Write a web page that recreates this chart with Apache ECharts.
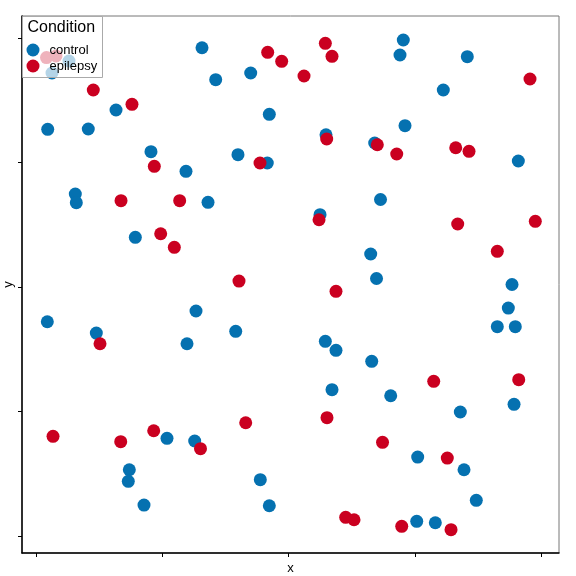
<!DOCTYPE html>
<html>
<head>
<meta charset="utf-8">
<script src="https://cdn.jsdelivr.net/npm/echarts@6/dist/echarts.min.js"></script>
<style>html,body{margin:0;padding:0;background:#fff}#c{width:576px;height:576px}</style>
</head>
<body>
<div id="c"></div>
<script>
const categories = ['control', 'epilepsy'];
const tickValues = [0, 0.25, 0.5, 0.75, 1];

const controlX = [0.3286,0.0317,0.0653,0.3557,0.4250,0.1584,0.0232,0.1035,0.2276,0.2969,
  0.0778,0.0798,0.1966,0.4618,0.5740,0.6704,0.3998,0.4578,0.3405,0.5622,
  0.6819,0.6625,0.6740,0.7270,0.7205,0.8537,0.8062,0.7304,0.9547,0.9422,
  0.0224,0.1194,0.3167,0.2989,0.2593,0.3141,0.1847,0.1827,0.2138,0.3953,
  0.5727,0.5938,0.6645,0.5859,0.4440,0.4618,0.9349,0.9131,0.9487,0.7021,
  0.8399,0.9462,0.7555,0.8472,0.8715,0.7536,0.7904];
const controlY = [0.9805,0.9297,0.9538,0.9163,0.9297,0.8554,0.8167,0.8173,0.7717,0.7323,
  0.6867,0.6693,0.5998,0.8468,0.8058,0.7892,0.7657,0.7490,0.6701,0.6452,
  0.6757,0.5663,0.5171,0.9960,0.9659,0.9625,0.8956,0.8239,0.7530,0.5050,
  0.4303,0.4076,0.4518,0.3861,0.1962,0.1908,0.1331,0.1098,0.0622,0.4110,
  0.3910,0.3729,0.3508,0.2938,0.1131,0.0608,0.4578,0.4203,0.4203,0.2817,
  0.2490,0.2645,0.1586,0.1331,0.0717,0.0295,0.0267];

const epilepsyX = [0.0208,0.0396,0.1134,0.1900,0.2342,0.1683,0.2844,0.2468,0.2738,0.4586,
  0.4863,0.5727,0.5859,0.5305,0.5754,0.6756,0.4434,0.5602,0.4018,0.9778,
  0.7140,0.8308,0.8571,0.8347,0.9883,0.9131,0.1267,0.0337,0.1677,0.2330,
  0.3256,0.5938,0.4151,0.5760,0.6859,0.6130,0.6295,0.7872,0.9555,0.8141,
  0.7239,0.8215];
const epilepsyY = [0.9608,0.9639,0.8956,0.8669,0.7424,0.6733,0.6733,0.6070,0.5797,0.9713,
  0.9532,0.9894,0.9633,0.9237,0.7972,0.7857,0.7490,0.6351,0.5120,0.9177,
  0.7671,0.7797,0.7725,0.6265,0.6319,0.5717,0.3861,0.2002,0.1894,0.2114,
  0.1753,0.4914,0.2275,0.2376,0.1882,0.0376,0.0327,0.3106,0.3139,0.1566,
  0.0195,0.0127];

const colors = ['#0571b0', '#ca0020'];
const zip = (a, b) => a.map((v, i) => [v, b[i]]);

const chart = echarts.init(document.getElementById('c'), null, {renderer: 'canvas'});
chart.setOption({
  animation: false,
  backgroundColor: '#fff',
  grid: {left: 22, right: 17, top: 16, bottom: 23, show: true, borderColor: '#777', borderWidth: 1,
         containLabel: false, outerBoundsMode: 'none'},
  xAxis: {
    type: 'value', min: -0.0277, max: 1.0352,
    name: 'x', nameLocation: 'middle', nameGap: 9,
    nameTextStyle: {color: '#000', fontSize: 13, fontFamily: 'Liberation Sans'},
    splitLine: {show: false},
    axisLine: {show: true, onZero: false, lineStyle: {color: '#000', width: 1.5}},
    axisTick: {show: true, length: 4, lineStyle: {color: '#000', width: 1}, customValues: tickValues},
    axisLabel: {show: false, customValues: tickValues}
  },
  yAxis: {
    type: 'value', min: -0.0341, max: 1.0442,
    name: 'y', nameLocation: 'middle', nameGap: 7, nameRotate: 90,
    nameTextStyle: {color: '#000', fontSize: 13, fontFamily: 'Liberation Sans'},
    splitLine: {show: false},
    axisLine: {show: true, onZero: false, lineStyle: {color: '#000', width: 1.5}},
    axisTick: {show: true, length: 4, lineStyle: {color: '#000', width: 1}, customValues: tickValues},
    axisLabel: {show: false, customValues: tickValues}
  },
  graphic: [{
    type: 'group', left: 22, top: 16, z: 10,
    children: [
      {type: 'rect', shape: {x: 0, y: 0, width: 80, height: 61},
       style: {fill: 'rgba(255,255,255,0.7)', stroke: '#aaa', lineWidth: 1}, z: 10},
      {type: 'text', x: 5, y: 3, z: 11,
       style: {text: 'Condition', fill: '#000', fontSize: 16, fontFamily: 'Liberation Sans'}}
    ]
  }],
  legend: {
    show: true, orient: 'vertical', left: 26.5, top: 43.5, z: 20, padding: 0,
    itemWidth: 13, itemHeight: 13, itemGap: 3, icon: 'circle',
    textStyle: {color: '#000', fontSize: 13, fontFamily: 'Liberation Sans', padding: [0, 0, 0, 5]},
    data: categories
  },
  series: [
    {name: categories[0], type: 'scatter', symbolSize: 13, data: zip(controlX, controlY),
     itemStyle: {color: colors[0], opacity: 1}},
    {name: categories[1], type: 'scatter', symbolSize: 13, data: zip(epilepsyX, epilepsyY),
     itemStyle: {color: colors[1], opacity: 1}}
  ]
});
</script>
</body>
</html>
